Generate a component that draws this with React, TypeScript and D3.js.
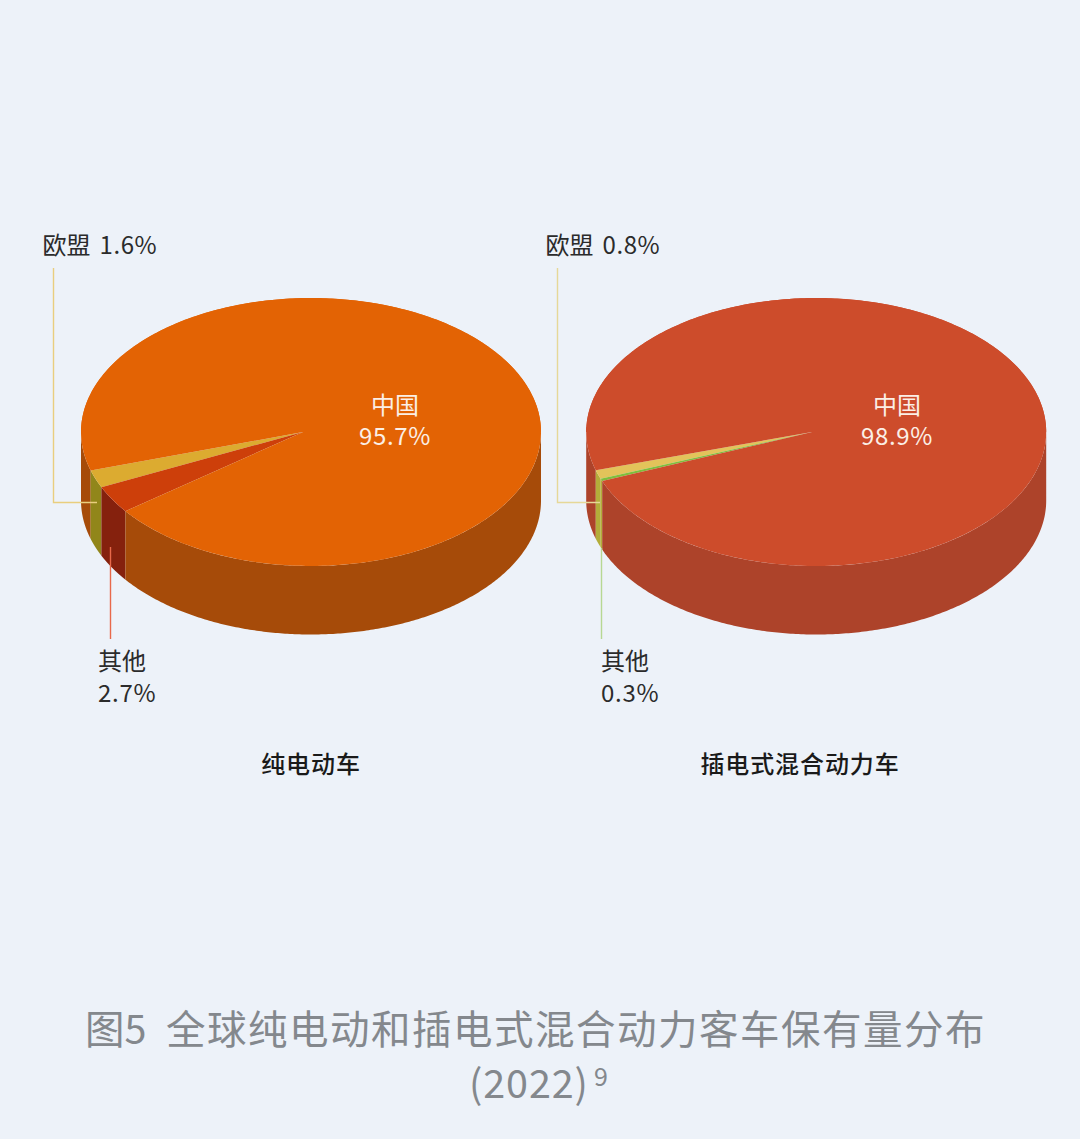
import React from "react";
import * as d3 from "d3";

const bevCategories = ["欧盟", "其他", "中国"];
const bevShares = [1.6, 2.7, 95.7];
const phevCategories = ["欧盟", "其他", "中国"];
const phevShares = [0.8, 0.3, 98.9];
const bevTitle = "纯电动车";
const phevTitle = "插电式混合动力车";
const titleLine1 = "全球纯电动和插电式混合动力客车保有量分布";

const W = 1080, H = 1139;
const FONT = '"Noto Sans CJK SC", "Noto Sans", sans-serif';
const rx = 230, ry = 134, depth = 68.5;
const rad = Math.PI / 180;

type Style = { top: string; wall: string };

// Ellipse parameter t measured from the leftmost point, turning down (counter-clockwise on screen).
function Pie({ cx, cy, ax, shares, angleOut, styles }: { cx: number; cy: number; ax: number; shares: number[]; angleOut: number[]; styles: Style[] }) {
  const cum = [0, ...d3.cumsum(shares)];
  const angle = d3.scaleLinear().domain(cum).range(angleOut);
  const X = (t: number) => cx - rx * Math.cos(t * rad);
  const Y = (t: number) => cy + ry * Math.sin(t * rad);
  const rim = (a: number, b: number) => d3.range(0, 241).map((i) => a + ((b - a) * i) / 240);
  const line = d3.line<[number, number]>().x((d) => d[0]).y((d) => d[1]);
  const slices = shares.map((s, i) => {
    const a = angle(cum[i]);
    const b = angle(cum[i + 1]);
    const arcPts = rim(a, b).map((t) => [X(t), Y(t)] as [number, number]);
    const top = line([[ax, cy], ...arcPts])! + "Z";
    const wts = rim(Math.max(a, 0), Math.min(b, 180));
    const upper = wts.map((t) => [X(t), Y(t)] as [number, number]);
    const lower = wts.map((t) => [X(t), Y(t) + depth] as [number, number]).reverse();
    return { top, wall: line([...upper, ...lower])! + "Z", style: styles[i] };
  });
  const a0 = angle(0);
  const leftTs = rim(0, a0);
  const leftWall = line([
    ...leftTs.map((t) => [X(t), Y(t)] as [number, number]),
    ...leftTs.map((t) => [X(t), Y(t) + depth] as [number, number]).reverse(),
  ])! + "Z";
  const last = styles[styles.length - 1];
  const leftTop = line([[ax, cy], ...rim(-2, a0).map((t) => [X(t), Y(t)] as [number, number])])! + "Z";
  return (
    <g>
      <path d={leftWall} fill={last.wall} />
      {slices.map((s, i) => <path key={"w" + i} d={s.wall} fill={s.style.wall} />)}
      {slices.map((s, i) => <path key={"t" + i} d={s.top} fill={s.style.top} />)}
      <path d={leftTop} fill={last.top} />
      <path d={line(rim(-180, 0).map((t) => [X(t), Y(t)] as [number, number]))! + "Z"} fill={last.top} />
    </g>
  );
}

const label = { fontFamily: FONT, fontSize: 24, fill: "#2B2B2B" } as const;
const white = { fontFamily: FONT, fontSize: 24, fill: "#FBEFE6", textAnchor: "middle" } as const;
const bold = { fontFamily: FONT, fontSize: 24, fontWeight: 500, fill: "#1A1A1A", textAnchor: "middle", letterSpacing: 0.9 } as const;
const caption = { fontFamily: FONT, fontSize: 39.5, fontWeight: 400, fill: "#84888D" } as const;
const pct = (v: number) => `${v.toFixed(1)}%`;

export default function App() {
  return (
    <svg width={W} height={H} viewBox={`0 0 ${W} ${H}`} style={{ position: "absolute", left: 0, top: 0, display: "block", background: "#EDF2F9" }}>
      <Pie cx={311} cy={432} ax={303} shares={bevShares} angleOut={[16.7, 24.3, 36.2, 360]}
        styles={[{ top: "#DCAB30", wall: "#91861A" }, { top: "#CD3F0A", wall: "#85210D" }, { top: "#E36304", wall: "#A64B09" }]} />
      <Pie cx={816.2} cy={432} ax={812} shares={phevShares} angleOut={[16.6, 20.4, 21.5, 360]}
        styles={[{ top: "#E3C35A", wall: "#B3AD3A" }, { top: "#80BE3C", wall: "#B3AD3A" }, { top: "#CD4C2B", wall: "#AD432A" }]} />

      <polyline points="53.5,268 53.5,502.5 97,502.5" fill="none" stroke="#E9CE7E" strokeWidth={1.4} />
      <line x1={110.5} y1={547} x2={110.5} y2={639} stroke="#E8694A" strokeWidth={1.4} />
      <polyline points="557.5,268 557.5,502.5 600,502.5" fill="none" stroke="#E6D898" strokeWidth={1.4} />
      <line x1={601.5} y1={548} x2={601.5} y2={639} stroke="#B7D893" strokeWidth={1.4} />

      <text x={42.5} y={254} {...label}>{bevCategories[0]}<tspan dx={9} letterSpacing={0.6}>{pct(bevShares[0])}</tspan></text>
      <text x={98} y={670} {...label}>{bevCategories[1]}</text>
      <text x={98} y={702} {...label} letterSpacing={0.7}>{pct(bevShares[1])}</text>
      <text x={395} y={414} {...white}>{bevCategories[2]}</text>
      <text x={395} y={445} {...white} letterSpacing={0.7}>{pct(bevShares[2])}</text>

      <text x={545.5} y={254} {...label}>{phevCategories[0]}<tspan dx={9} letterSpacing={0.6}>{pct(phevShares[0])}</tspan></text>
      <text x={601} y={670} {...label}>{phevCategories[1]}</text>
      <text x={601} y={702} {...label} letterSpacing={0.7}>{pct(phevShares[1])}</text>
      <text x={897} y={414} {...white}>{phevCategories[2]}</text>
      <text x={897} y={445} {...white} letterSpacing={0.7}>{pct(phevShares[2])}</text>

      <text x={311} y={773} {...bold}>{bevTitle}</text>
      <text x={800} y={773} {...bold}>{phevTitle}</text>

      <text x={85} y={1044} {...caption}>图5</text>
      <text x={166} y={1044} {...caption} letterSpacing={1.5}>{titleLine1}</text>
      <text x={469} y={1098} {...caption} letterSpacing={0.9}>(2022)</text>
      <text x={594} y={1086} {...caption} fontSize={25}>9</text>
    </svg>
  );
}
